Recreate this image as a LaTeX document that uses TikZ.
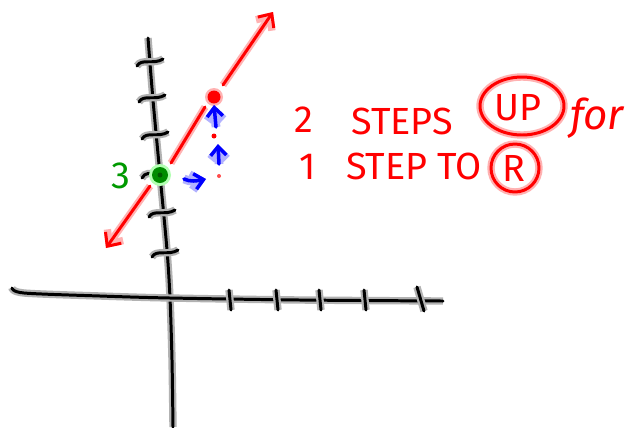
\documentclass[tikz,border=0pt]{standalone}
\usepackage{fontspec}
\setmainfont{Fira Sans}
\usetikzlibrary{arrows.meta}

\begin{document}
\begin{tikzpicture}[
    x=0.02cm, y=-0.02cm,
    pen/.style={
        line width=1.7pt,
        line cap=round,
        line join=round,
    },
    axispen/.style={
        pen,
        draw=black,
        preaction={draw=black!30, line width=4.2pt},
    },
    slopepen/.style={
        pen,
        draw=red,
        preaction={draw=red!30, line width=4.2pt},
    },
    steppen/.style={
        pen,
        line width=2pt,
        draw=blue,
        preaction={draw=blue!30, line width=5pt},
        -{Straight Barb[length=5pt, width=9pt]},
    },
    arrow/.style={
        -{Straight Barb[length=6pt, width=11pt]},
    },
    label/.style={
        text=red,
        font=\fontsize{21.5}{26}\selectfont,
        inner sep=0pt,
    },
]

    \useasboundingbox[fill=white] (0,0) rectangle (629,427);

    % axes
    \draw[axispen] plot[smooth] coordinates {(148,38) (153,100) (160,175) (167,250) (170,298) (172,360) (173,427)};
    \draw[axispen] plot[smooth] coordinates {(12,288) (24,293) (100,296) (170,298) (300,300) (443,301)};

    % ticks on the y axis
    \foreach \ty/\ax in {62/150, 98/152, 135/155, 213/162, 253/165}
        \draw[axispen] (\ax-13,\ty+4) .. controls (\ax-9,\ty-4) and (\ax+4,\ty+3) .. (\ax+13,\ty-3);
    \draw[axispen] (142,178) .. controls (145,172) and (150,174) .. (155,173);

    % ticks on the x axis
    \foreach \tx in {230, 277, 320, 365}
        \draw[axispen] (\tx-1,290) -- (\tx+1,310);
    \draw[axispen] (417,287) -- (424,311);

    % the line
    \draw[slopepen, arrow] (150,186) -- (106,248);
    \draw[slopepen] (171,163) -- (205,107);
    \draw[slopepen, arrow] (223,85) -- (273,12);

    % points
    \coordinate (intercept) at (160,175);
    \coordinate (next) at (214,97);
    \fill[green!30] (intercept) circle[radius=11];
    \fill[green!55!black] (intercept) circle[radius=8];
    \fill[green!35!black] (intercept) circle[radius=2.5];
    \fill[red!30] (next) circle[radius=9];
    \fill[red] (next) circle[radius=6.5];
    \fill[red] (214,136) circle[radius=2.5];
    \fill[red!70] (219,176) circle[radius=2];

    % steps
    \draw[steppen] (184,179) .. controls (190,182) and (197,181) .. (206,179);
    \draw[steppen] (219,164) -- (218,144);
    \draw[steppen] (216,127) -- (214,105);

    % labels
    \node[label, text=green!60!black] (yint) at (121,176) {3};
    \node[label] (two) at (304,120) {2};
    \node[label] (steps) at (402,121) {STEPS};
    \node[label] (up) at (518,108) {UP};
    \node[label, font=\fontsize{24}{28}\selectfont\itshape] (for) at (597,118) {for};
    \node[label] (one) at (308,167) {1};
    \node[label] (stepto) at (414,166) {STEP TO};
    \node[label] (right) at (514,168) {R};

    \draw[slopepen] (522,106) ellipse[x radius=42, y radius=29];
    \draw[slopepen] (515,168) circle[radius=24];

\end{tikzpicture}
\end{document}
